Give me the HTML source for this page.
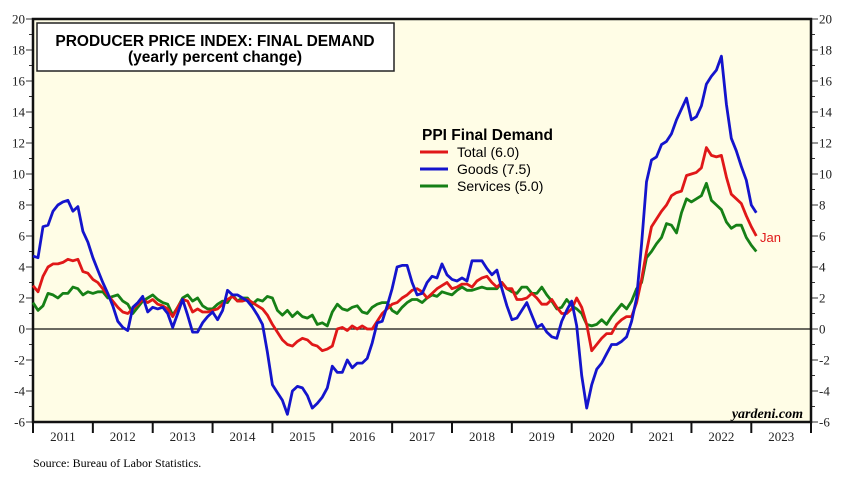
<!DOCTYPE html>
<html><head><meta charset="utf-8"><style>
body{margin:0;background:#fff;}
svg{display:block;font-family:"Liberation Serif",serif;}
</style></head><body>
<svg id="chart" width="852" height="482" viewBox="0 0 852 482">
<rect x="33" y="19" width="778" height="403" fill="#fffde6"/>
<g id="axes"></g>
<g id="series"></g>
<rect x="37" y="23" width="357" height="48" fill="#fff" stroke="#222" stroke-width="1.5"/>
<text x="215" y="46" text-anchor="middle" font-family="Liberation Sans, sans-serif" font-weight="bold" font-size="15.5">PRODUCER PRICE INDEX: FINAL DEMAND</text>
<text x="215" y="62" text-anchor="middle" font-family="Liberation Sans, sans-serif" font-weight="bold" font-size="15.5">(yearly percent change)</text>
<g font-family="Liberation Sans, sans-serif">
<text x="422" y="140" font-weight="bold" font-size="15.5">PPI Final Demand</text>
<line x1="420" y1="152" x2="448" y2="152" stroke="#e01818" stroke-width="3"/>
<text x="457" y="157" font-size="14">Total (6.0)</text>
<line x1="420" y1="169" x2="448" y2="169" stroke="#1414cc" stroke-width="3"/>
<text x="457" y="174" font-size="14">Goods (7.5)</text>
<line x1="420" y1="186" x2="448" y2="186" stroke="#168016" stroke-width="3"/>
<text x="457" y="191" font-size="14">Services (5.0)</text>
</g>
<text x="760" y="242" fill="#e01818" font-family="Liberation Sans, sans-serif" font-size="13">Jan</text>
<text x="803" y="418" text-anchor="end" font-style="italic" font-weight="bold" font-size="14">yardeni.com</text>
<text x="33" y="467" font-size="12">Source: Bureau of Labor Statistics.</text>
</svg>
<script>
const yearLabels=["2011","2012","2013","2014","2015","2016","2017","2018","2019","2020","2021","2022","2023"];
const yTicks=[-6,-4,-2,0,2,4,6,8,10,12,14,16,18,20];
const totalVals=[2.8,2.4,3.4,4.0,4.2,4.2,4.3,4.5,4.4,4.5,3.7,3.6,
3.2,3.0,2.6,2.2,1.8,1.4,1.1,1.0,1.3,1.6,1.9,1.7,
1.9,1.6,1.5,1.3,0.8,1.4,1.9,1.8,1.1,1.3,1.1,1.1,
1.2,1.3,1.6,1.9,2.1,1.8,1.8,1.9,1.7,1.5,1.3,0.9,
0.3,-0.2,-0.7,-1.0,-1.1,-0.8,-0.6,-0.7,-1.0,-1.1,-1.4,-1.3,
-1.1,0.0,0.1,-0.1,0.2,0.0,0.2,0.0,0.0,0.5,1.0,1.3,
1.6,1.7,2.0,2.2,2.5,2.6,2.4,2.0,2.3,2.6,2.8,3.0,
2.6,2.7,2.9,2.9,2.7,3.1,3.3,3.4,3.0,2.7,3.0,2.6,
2.6,1.9,1.9,2.0,2.3,2.0,1.6,1.6,1.9,1.4,1.0,1.0,
1.3,2.0,1.4,0.3,-1.4,-1.0,-0.6,-0.3,-0.3,0.3,0.6,0.8,
0.8,1.7,3.2,5.0,6.6,7.1,7.6,8.0,8.6,8.8,8.9,9.9,
10.0,10.1,10.4,11.7,11.2,11.1,11.2,9.8,8.7,8.4,8.1,7.3,
6.6,6.0];
const goodsVals=[4.7,4.6,6.6,6.7,7.6,8.0,8.2,8.3,7.6,7.9,6.3,5.6,
4.6,3.8,3.0,2.3,1.5,0.5,0.1,-0.1,1.4,1.7,2.1,1.1,
1.4,1.3,1.4,1.0,0.1,1.0,1.9,0.9,-0.2,-0.2,0.4,0.8,
1.1,0.6,1.2,2.5,2.2,2.2,2.0,1.8,1.4,0.9,0.3,-1.5,
-3.6,-4.1,-4.6,-5.5,-4.0,-3.7,-3.8,-4.3,-5.1,-4.8,-4.4,-3.8,
-2.4,-2.8,-2.8,-2.0,-2.5,-2.2,-2.2,-1.9,-0.9,0.4,0.5,1.5,
2.6,4.0,4.1,4.1,3.0,2.2,2.3,3.0,3.4,3.3,4.2,3.5,
3.2,3.1,3.3,3.1,4.4,4.4,4.4,3.9,3.5,3.8,2.6,1.5,
0.6,0.7,1.2,1.7,0.9,0.1,0.3,-0.2,-0.5,-0.6,0.5,1.2,
1.8,0.2,-3.0,-5.1,-3.6,-2.6,-2.2,-1.6,-1.0,-1.0,-0.8,-0.5,
0.5,2.0,5.5,9.5,10.9,11.1,11.9,12.1,12.6,13.5,14.2,14.9,
13.5,13.7,14.4,15.8,16.3,16.7,17.6,14.5,12.3,11.5,10.5,9.6,
8.0,7.5];
const servicesVals=[1.7,1.2,1.5,2.3,2.2,2.0,2.3,2.3,2.7,2.6,2.2,2.4,
2.3,2.4,2.4,2.0,2.1,2.2,1.8,1.6,1.0,1.4,1.8,2.0,
2.2,1.9,1.7,1.6,0.9,1.4,2.0,2.2,1.8,2.0,1.5,1.3,
1.3,1.6,1.8,1.7,2.2,1.8,2.0,2.0,1.6,1.9,1.8,2.1,
2.0,1.2,0.9,1.2,0.8,1.1,0.8,0.7,0.9,0.3,0.4,0.2,
1.1,1.6,1.3,1.2,1.4,1.5,1.1,1.0,1.4,1.6,1.7,1.7,
1.2,1.0,1.4,1.7,1.9,1.9,1.7,2.0,2.2,2.1,2.4,2.3,
2.2,2.5,2.7,2.5,2.5,2.6,2.7,2.6,2.6,2.6,3.0,2.6,
2.4,2.3,2.7,2.7,2.3,2.3,2.7,2.2,1.8,1.3,1.4,1.9,
1.5,1.3,1.0,0.3,0.2,0.3,0.6,0.3,0.8,1.2,1.6,1.3,
1.8,2.6,3.0,4.6,5.0,5.5,5.9,6.8,6.7,6.2,7.5,8.4,
8.2,8.4,8.6,9.4,8.3,8.0,7.7,6.9,6.5,6.7,6.7,5.9,
5.4,5.0];

const NS="http://www.w3.org/2000/svg";
const X0=33,X1=811,Y0=19,Y1=422,YMIN=-6,YMAX=20,YEARW=(751.3-33)/12;
function xMonth(i){return X0+i*YEARW/12;}
function yVal(v){return Y1-(v-YMIN)/(YMAX-YMIN)*(Y1-Y0);}
function mk(tag,attrs){const e=document.createElementNS(NS,tag);for(const k in attrs)e.setAttribute(k,attrs[k]);return e;}
const axes=document.getElementById('axes');
// minor + major ticks
for(let v=YMIN;v<=YMAX;v++){
  const y=yVal(v),len=(v%2===0)?7:4;
  const t1=mk('line',{x1:X0-len,y1:y,x2:X0,y2:y,stroke:'#333','stroke-width':1});
  
  
  axes.appendChild(t1);
  const t2=mk('line',{x1:X1,y1:y,x2:X1+len,y2:y,stroke:'#333','stroke-width':1});
  
  
  axes.appendChild(t2);
}
yTicks.forEach(v=>{
  const y=yVal(v);
  const l=mk('text',{x:X0-8,y:y+4.5,'text-anchor':'end','font-size':13,fill:'#222'});
  l.textContent=String(v);
  
  
  axes.appendChild(l);
  const r=mk('text',{x:X1+8,y:y+4.5,'font-size':13,fill:'#222'});
  r.textContent=String(v);
  
  
  axes.appendChild(r);
});
yearLabels.forEach((yl,k)=>{
  const x=X0+k*YEARW;
  const t=mk('line',{x1:x,y1:Y1,x2:x,y2:Y1+11,stroke:'#111','stroke-width':2});
  
  
  axes.appendChild(t);
  const l=mk('text',{x:x+YEARW/2,y:Y1+19,'text-anchor':'middle','font-size':13,fill:'#222'});
  l.textContent=yl;
  
  
  axes.appendChild(l);
});
const endTick=mk('line',{x1:X1,y1:Y1,x2:X1,y2:Y1+11,stroke:'#111','stroke-width':2});


axes.appendChild(endTick);
const frame=mk('path',{d:`M${X0} ${Y1} L${X0} ${Y0} L${X1} ${Y0} L${X1} ${Y1} Z`,fill:'none',stroke:'#111','stroke-width':2.5});


axes.appendChild(frame);
const zero=mk('line',{x1:X0,y1:yVal(0),x2:X1,y2:yVal(0),stroke:'#111','stroke-width':1.3});


axes.appendChild(zero);

const ser=document.getElementById('series');
function drawLine(vals,color,name){
  const d=vals.map((v,i)=>(i?'L':'M')+xMonth(i).toFixed(1)+' '+yVal(v).toFixed(1)).join(' ');
  const p=mk('path',{d:d,fill:'none',stroke:color,'stroke-width':2.8,'stroke-linejoin':'round'});
  
  
  ser.appendChild(p);
}
drawLine(servicesVals,'#168016','services-line');
drawLine(totalVals,'#e01818','total-line');
drawLine(goodsVals,'#1414cc','goods-line');
</script>
</body></html>
